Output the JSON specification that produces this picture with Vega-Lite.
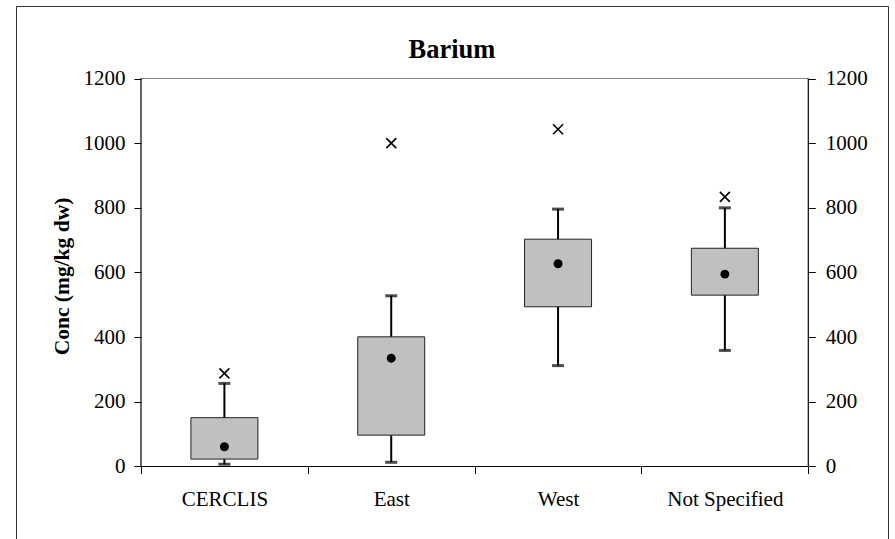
{
  "$schema": "https://vega.github.io/schema/vega-lite/v6.json",
  "autosize": {"type": "none"},
  "padding": {"left": 16, "top": 6, "right": 6, "bottom": 0},
  "width": 872,
  "height": 540,
  "background": "white",
  "title": {"text": "Barium", "font": "Liberation Serif", "fontSize": 26.5, "fontWeight": "bold", "color": "black", "anchor": "middle", "frame": "group", "baseline": "alphabetic", "offset": -78.2},
  "config": {"view": {"stroke": "#333333", "strokeWidth": 1}},
  "data": {"values": [
    {"site": "CERCLIS", "low": 7, "q1": 23, "mid": 61, "q3": 151, "high": 257, "max": 288},
    {"site": "East", "low": 13, "q1": 97, "mid": 335, "q3": 401, "high": 528, "max": 1000},
    {"site": "West", "low": 312, "q1": 494, "mid": 627, "q3": 703, "high": 796, "max": 1043},
    {"site": "Not Specified", "low": 359, "q1": 530, "mid": 595, "q3": 675, "high": 800, "max": 834}
  ]},
  "resolve": {"axis": {"y": "independent"}},
  "layer": [
    {
      "data": {"values": [{}]},
      "mark": {"type": "rule", "color": "#808080", "strokeWidth": 1},
      "encoding": {
        "x": {"datum": "CERCLIS", "type": "nominal", "bandPosition": 0, "scale": {"domain": ["CERCLIS", "East", "West", "Not Specified"], "paddingInner": 0, "paddingOuter": 0.6135, "align": 0.6106}},
        "x2": {"datum": "Not Specified", "bandPosition": 1},
        "y": {"datum": 1200, "type": "quantitative", "scale": {"domain": [-245.88, 1424.23], "nice": false, "zero": false}, "axis": null}
      }
    },
    {
      "mark": {"type": "rule", "color": "black", "strokeWidth": 2},
      "encoding": {
        "x": {"field": "site", "type": "nominal", "sort": null, "title": null,
              "scale": {"domain": ["CERCLIS", "East", "West", "Not Specified"], "paddingInner": 0, "paddingOuter": 0.6135, "align": 0.6106},
              "axis": {"orient": "bottom", "offset": -79.5, "domain": false, "grid": false, "tickBand": "extent", "tickSize": 7, "tickColor": "black", "tickWidth": 1, "labelFont": "Liberation Serif", "labelFontSize": 21, "labelColor": "black", "labelPadding": 26, "labelAngle": 0, "labelAlign": "center", "labelBaseline": "middle"}},
        "y": {"field": "low", "type": "quantitative", "scale": {"domain": [-245.88, 1424.23], "nice": false, "zero": false},
              "axis": {"orient": "left", "offset": -125, "values": [0, 200, 400, 600, 800, 1000, 1200], "format": "d", "domain": false, "grid": false, "tickSize": 7, "tickColor": "black", "tickWidth": 1, "labelFont": "Liberation Serif", "labelFontSize": 21, "labelColor": "black", "labelPadding": 9, "title": "Conc (mg/kg dw)", "titleFont": "Liberation Serif", "titleFontSize": 21.5, "titleFontWeight": "bold", "titleColor": "black", "titlePadding": 10}},
        "y2": {"field": "high"}
      }
    },
    {
      "mark": {"type": "bar", "size": 67, "fill": "#c0c0c0", "stroke": "#222222", "strokeWidth": 1},
      "encoding": {
        "x": {"field": "site", "type": "nominal", "sort": null, "title": null},
        "y": {"field": "q1", "type": "quantitative", "scale": {"domain": [-245.88, 1424.23], "nice": false, "zero": false}, "axis": null},
        "y2": {"field": "q3"}
      }
    },
    {
      "mark": {"type": "tick", "size": 12, "thickness": 3, "color": "black", "orient": "horizontal"},
      "encoding": {
        "x": {"field": "site", "type": "nominal", "sort": null, "title": null},
        "y": {"field": "low", "type": "quantitative", "scale": {"domain": [-245.88, 1424.23], "nice": false, "zero": false}, "axis": null}
      }
    },
    {
      "mark": {"type": "tick", "size": 12, "thickness": 3, "color": "black", "orient": "horizontal"},
      "encoding": {
        "x": {"field": "site", "type": "nominal", "sort": null, "title": null},
        "y": {"field": "high", "type": "quantitative", "scale": {"domain": [-245.88, 1424.23], "nice": false, "zero": false}, "axis": null}
      }
    },
    {
      "mark": {"type": "point", "shape": "circle", "filled": true, "size": 80, "color": "black", "opacity": 1},
      "encoding": {
        "x": {"field": "site", "type": "nominal", "sort": null, "title": null},
        "y": {"field": "mid", "type": "quantitative", "scale": {"domain": [-245.88, 1424.23], "nice": false, "zero": false}, "axis": null}
      }
    },
    {
      "mark": {"type": "point", "shape": "M-1,-1L1,1M-1,1L1,-1", "filled": false, "size": 100, "strokeWidth": 1.6, "color": "black", "opacity": 1},
      "encoding": {
        "x": {"field": "site", "type": "nominal", "sort": null, "title": null},
        "y": {"field": "max", "type": "quantitative", "scale": {"domain": [-245.88, 1424.23], "nice": false, "zero": false},
              "axis": {"orient": "right", "offset": -79.7, "values": [0, 200, 400, 600, 800, 1000, 1200], "format": "d", "domain": false, "grid": false, "tickSize": 7, "tickColor": "black", "tickWidth": 1, "labelFont": "Liberation Serif", "labelFontSize": 21, "labelColor": "black", "labelPadding": 10, "title": null}}
      }
    },
    {
      "data": {"values": [{}]},
      "mark": {"type": "rule", "color": "black", "strokeWidth": 1.2},
      "encoding": {
        "x": {"datum": "CERCLIS", "type": "nominal", "bandPosition": 0},
        "y": {"datum": 0, "type": "quantitative", "scale": {"domain": [-245.88, 1424.23], "nice": false, "zero": false}, "axis": null},
        "y2": {"datum": 1200}
      }
    },
    {
      "data": {"values": [{}]},
      "mark": {"type": "rule", "color": "black", "strokeWidth": 1.2},
      "encoding": {
        "x": {"datum": "Not Specified", "type": "nominal", "bandPosition": 1},
        "y": {"datum": 0, "type": "quantitative", "scale": {"domain": [-245.88, 1424.23], "nice": false, "zero": false}, "axis": null},
        "y2": {"datum": 1200}
      }
    },
    {
      "data": {"values": [{}]},
      "mark": {"type": "rule", "color": "black", "strokeWidth": 1.2},
      "encoding": {
        "x": {"datum": "CERCLIS", "type": "nominal", "bandPosition": 0},
        "x2": {"datum": "Not Specified", "bandPosition": 1},
        "y": {"datum": 0, "type": "quantitative", "scale": {"domain": [-245.88, 1424.23], "nice": false, "zero": false}, "axis": null}
      }
    }
  ]
}
